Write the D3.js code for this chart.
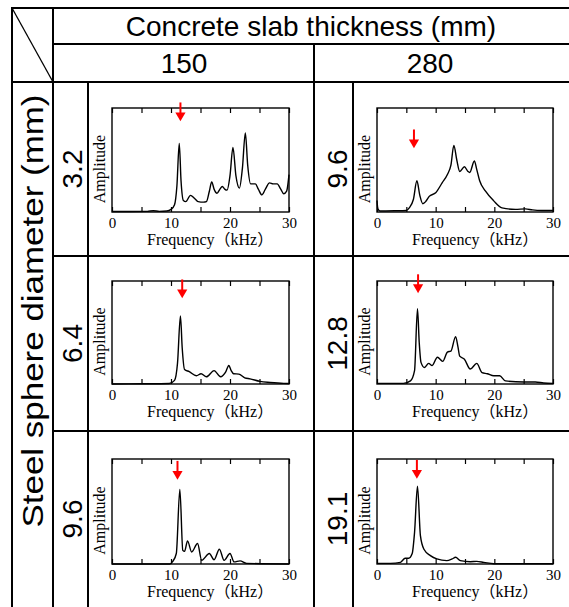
<!DOCTYPE html>
<html>
<head>
<meta charset="utf-8">
<script src="https://cdn.jsdelivr.net/npm/d3@7"></script>
<style>
  body { margin: 0; background: #fff; }
  svg { display: block; }
</style>
</head>
<body>
<div id="chart"></div>
<script>
// Table headings
var colHeader = "Concrete slab thickness (mm)";
var rowHeader = "Steel sphere diameter (mm)";
var thickness = ["150", "280"];
// sphere diameter per panel, row by row: [150 col, 280 col]
var diameters = [["3.2", "9.6"], ["6.4", "12.8"], ["9.6", "19.1"]];

// spectra: [frequency kHz, relative amplitude]
var spec150_32 = [[0,0.005],[3,0.005],[6,0.006],[7,0.012],[8,0.006],[9.3,0.01],[10,0.025],[10.6,0.07],[11.0,0.25],[11.4,0.66],[11.7,0.3],[12.1,0.11],[12.5,0.1],[13.3,0.16],[14,0.13],[14.6,0.1],[15.5,0.095],[16.0,0.1],[16.5,0.2],[16.9,0.29],[17.3,0.22],[17.8,0.18],[18.3,0.22],[18.7,0.245],[19.1,0.22],[19.5,0.21],[20.0,0.35],[20.5,0.62],[21.0,0.35],[21.6,0.23],[22.1,0.42],[22.6,0.76],[23.0,0.45],[23.5,0.27],[24.3,0.27],[24.8,0.22],[25.4,0.165],[26.0,0.22],[26.7,0.28],[27.3,0.27],[28,0.27],[28.6,0.22],[29.1,0.175],[29.6,0.2],[30,0.36]];
var spec280_96 = [[0,0.11],[0.15,0.03],[0.5,0.01],[3,0.012],[5,0.015],[5.5,0.04],[6.2,0.12],[6.8,0.30],[7.3,0.16],[7.8,0.08],[8.3,0.1],[8.9,0.15],[10,0.185],[11.1,0.28],[12,0.36],[12.6,0.45],[13.1,0.64],[13.6,0.5],[14.1,0.39],[14.9,0.435],[15.5,0.39],[15.8,0.38],[16.6,0.49],[17.0,0.41],[17.5,0.30],[18.5,0.2],[19.9,0.107],[21.3,0.04],[23.6,0.025],[25.3,0.03],[26.5,0.02],[28.1,0.015],[30,0.015]];
var spec150_64 = [[0,0],[5,0.002],[9.7,0.005],[10.6,0.035],[11.1,0.2],[11.6,0.66],[11.9,0.35],[12.3,0.14],[13.1,0.12],[14.3,0.08],[15.1,0.10],[16,0.07],[17.3,0.13],[18.4,0.07],[19.3,0.12],[19.8,0.18],[20.2,0.13],[20.6,0.10],[21.5,0.096],[22.5,0.06],[23.4,0.05],[25.1,0.025],[26.8,0.015],[29.1,0.006],[30,0.005]];
var spec280_128 = [[0,0.006],[4.5,0.006],[5.7,0.03],[6.4,0.13],[6.9,0.73],[7.2,0.4],[7.5,0.21],[8.1,0.16],[8.8,0.20],[9.4,0.18],[10.3,0.26],[11.2,0.22],[12,0.31],[12.6,0.32],[13.4,0.46],[13.8,0.36],[14.1,0.27],[14.9,0.24],[15.9,0.145],[17,0.20],[17.9,0.11],[18.8,0.10],[19.9,0.08],[20.9,0.08],[21.9,0.03],[25,0.02],[27,0.02],[28.4,0.01],[30,0.006]];
var spec150_96 = [[0,0],[9.8,0],[10.3,0.025],[10.9,0.1],[11.5,0.71],[12,0.13],[12.3,0.12],[12.8,0.22],[13.5,0.115],[14.5,0.195],[15.2,0.035],[16.5,0.10],[17.3,0.04],[18.2,0.14],[19,0.035],[20,0.10],[20.7,0.02],[21.7,0.03],[22.8,0.006],[30,0]];
var spec280_191 = [[0,0.006],[2.3,0.006],[4,0.016],[4.8,0.055],[5.4,0.055],[6,0.1],[6.4,0.3],[6.9,0.74],[7.4,0.27],[8,0.14],[9.1,0.08],[10.2,0.048],[11.9,0.032],[12.8,0.048],[13.4,0.064],[14.2,0.032],[15.9,0.022],[17,0.025],[18.2,0.016],[19.9,0.003],[30,0.003]];
var spectra = [[spec150_32, spec280_96], [spec150_64, spec280_128], [spec150_96, spec280_191]];

// red arrows: frequency marked and amplitude level of the arrow tip
var arrowFreq = [[11.6, 6.3], [11.9, 7.0], [11.1, 6.8]];
var arrowTip = [[0.89, 0.63], [0.85, 0.90], [0.82, 0.83]];

var tickVals = [0, 5, 10, 15, 20, 25, 30];
var tickLabels = ["0", "", "10", "", "20", "", "30"];

var width = 569, height = 607;
var sans = "'Liberation Sans', Arial, sans-serif";
var serif = "'Liberation Serif', 'Times New Roman', 'Noto Sans CJK JP', serif";

// table grid
var xOuter = 12, xRowHead = 53, xRight = 569;
var yTop = 8, yMid = 44, yHead = 82;
var colX = [xRowHead, 314];           // start of each thickness column
var labelColX = [88, 353];            // sub-column with the diameter label
var rowY = [yHead, 256, 431, height]; // row boundaries

// plot frames inside each cell
var plotLeft = [112, 377], plotRight = [289, 553];
var plotTop = [108, 281, 459], plotBottom = [212, 384, 564];

var svg = d3.select("#chart").append("svg")
    .attr("width", width)
    .attr("height", height);

svg.append("rect").attr("width", width).attr("height", height).attr("fill", "#fff");

var grid = svg.append("g").attr("stroke", "#000").attr("stroke-width", 2);
function hline(y, x1, x2) { grid.append("line").attr("x1", x1).attr("x2", x2).attr("y1", y).attr("y2", y); }
function vline(x, y1, y2) { grid.append("line").attr("x1", x).attr("x2", x).attr("y1", y1).attr("y2", y2); }

hline(yTop, xOuter - 1, xRight);
hline(yMid, xRowHead, xRight);
hline(yHead, xOuter - 1, xRight);
hline(rowY[1], xRowHead, xRight);
hline(rowY[2], xRowHead, xRight);
vline(xOuter, yTop - 1, height);
vline(xRowHead, yTop - 1, height);
vline(colX[1], yMid, height);
labelColX.forEach(function(x) { vline(x, yHead, height); });
grid.append("line").attr("stroke-width", 1.3)
    .attr("x1", xOuter).attr("y1", yTop).attr("x2", xRowHead).attr("y2", yHead);

// headings
svg.append("text")
    .attr("x", 311).attr("y", 36)
    .attr("text-anchor", "middle")
    .style("font", "28px " + sans)
    .text(colHeader);

svg.selectAll("text.thick")
    .data(thickness)
    .enter().append("text")
    .attr("class", "thick")
    .attr("x", function(d, i) { return [184, 430][i]; })
    .attr("y", 73)
    .attr("text-anchor", "middle")
    .style("font", "28px " + sans)
    .text(function(d) { return d; });

svg.append("text")
    .attr("transform", "translate(43,311) rotate(-90)")
    .attr("text-anchor", "middle")
    .attr("textLength", 433)
    .attr("lengthAdjust", "spacingAndGlyphs")
    .style("font", "29px " + sans)
    .text(rowHeader);

var x = [0, 1].map(function(c) {
    return d3.scaleLinear().domain([0, 30]).range([plotLeft[c], plotRight[c]]);
});

var arrowHead = d3.symbol().type(d3.symbolTriangle).size(45);

diameters.forEach(function(row, r) {
    var y = d3.scaleLinear().domain([0, 1]).range([plotBottom[r], plotTop[r]]);
    var rowMid = (rowY[r] + Math.min(rowY[r + 1], 612)) / 2;

    row.forEach(function(dia, c) {
        var xs = x[c];
        var g = svg.append("g");

        // diameter label
        g.append("text")
            .attr("transform", "translate(" + (labelColX[c] - 6) + "," + rowMid + ") rotate(-90)")
            .attr("text-anchor", "middle")
            .style("font", "28px " + sans)
            .text(dia);

        // curve
        var line = d3.line()
            .x(function(d) { return xs(d[0]); })
            .y(function(d) { return y(d[1]); })
            .curve(d3.curveMonotoneX);
        g.append("path")
            .datum(spectra[r][c])
            .attr("fill", "none")
            .attr("stroke", "#000")
            .attr("stroke-width", 1.4)
            .attr("d", line);

        // axes with inward ticks top and bottom
        var bottomAxis = d3.axisBottom(xs)
            .tickValues(tickVals)
            .tickSizeInner(-5).tickSizeOuter(0).tickPadding(5)
            .tickFormat(function(d, i) { return tickLabels[i]; });
        var gb = g.append("g")
            .attr("transform", "translate(0," + plotBottom[r] + ")")
            .call(bottomAxis);
        gb.selectAll("text").style("font", "15px " + serif).attr("fill", "#000");

        var topAxis = d3.axisTop(xs)
            .tickValues(tickVals)
            .tickSizeInner(-5).tickSizeOuter(0)
            .tickFormat("");
        g.append("g")
            .attr("transform", "translate(0," + plotTop[r] + ")")
            .call(topAxis);
        g.selectAll(".tick line").attr("stroke-width", 1.2);
        g.selectAll(".domain").remove();

        g.append("rect")
            .attr("x", plotLeft[c]).attr("y", plotTop[r])
            .attr("width", plotRight[c] - plotLeft[c])
            .attr("height", plotBottom[r] - plotTop[r])
            .attr("fill", "none").attr("stroke", "#000").attr("stroke-width", 1.4);

        // axis titles
        g.append("text")
            .attr("x", plotLeft[c] + 35)
            .attr("y", plotBottom[r] + 33)
            .style("font", "16px " + serif)
            .text("Frequency（kHz）");
        g.append("text")
            .attr("transform", "translate(" + (plotLeft[c] - 7) + "," + ((plotTop[r] + plotBottom[r]) / 2 + 9) + ") rotate(-90)")
            .attr("text-anchor", "middle")
            .style("font", "16px " + serif)
            .text("Amplitude");

        // red arrow
        var ax = xs(arrowFreq[r][c]);
        var tip = y(arrowTip[r][c]);
        g.append("line")
            .attr("x1", ax).attr("x2", ax)
            .attr("y1", tip - 17).attr("y2", tip - 6)
            .attr("stroke", "#f00").attr("stroke-width", 2);
        g.append("path")
            .attr("d", arrowHead)
            .attr("transform", "translate(" + ax + "," + (tip - 4) + ") rotate(180)")
            .attr("fill", "#f00");
    });
});
</script>
</body>
</html>
